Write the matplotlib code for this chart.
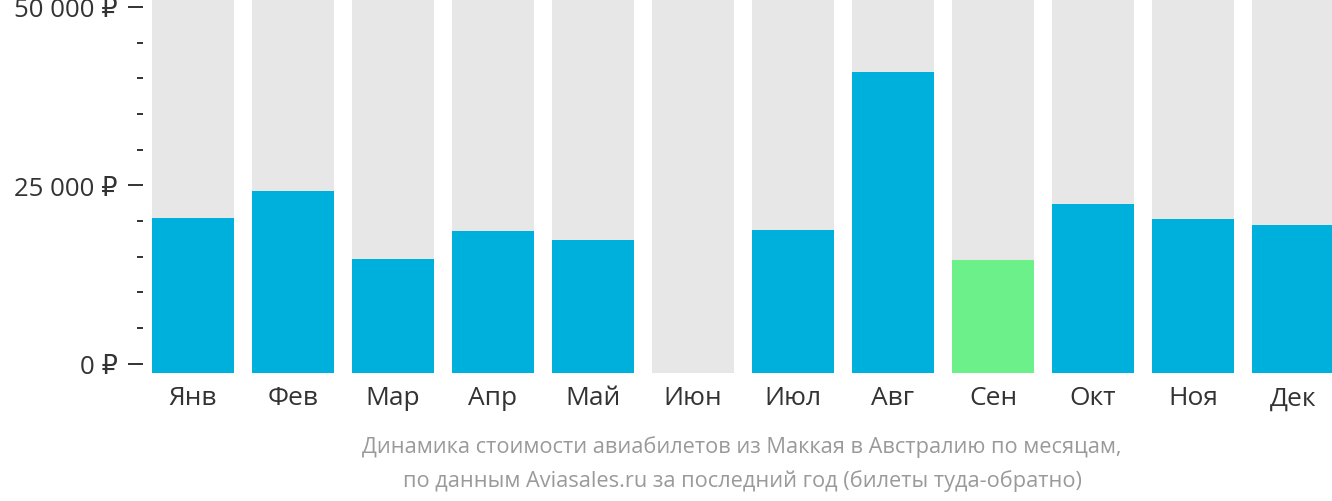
import numpy as np
import matplotlib
matplotlib.use("Agg")
import matplotlib.pyplot as plt
from matplotlib.ticker import FixedLocator, MultipleLocator

plt.rcParams['font.family'] = ['Open Sans', 'DejaVu Sans']

# Data (rubles, round trip)
months = ["Янв", "Фев", "Мар", "Апр", "Май", "Июн",
          "Июл", "Авг", "Сен", "Окт", "Ноя", "Дек"]
prices = [20400, 24200, 14650, 18600, 17300, None,
          18700, 40900, 14500, 22400, 20300, 19400]
cheapest_month = "Сен"
y_ticks = [0, 25000, 50000]
y_tick_labels = ["0 ₽", "25 000 ₽", "50 000 ₽"]
caption = ("Динамика стоимости авиабилетов из Маккая в Австралию по месяцам,\n"
           "по данным Aviasales.ru за последний год (билеты туда-обратно)")

BLUE = "#00b0dc"
GREEN = "#6cf08a"
GRAY = "#e7e7e7"

W, H = 1332, 502
fig = plt.figure(figsize=(W / 100, H / 100), dpi=100)
ax = fig.add_axes([152 / W, (H - 374) / H, 1180 / W, 374 / H])

y_bottom, y_top = -1330, 51120
x = np.arange(len(months))
bar_w = 0.82

# gray background columns
ax.bar(x, y_top - y_bottom, bottom=y_bottom, width=bar_w, color=GRAY, zorder=1)

for i, (m, p) in enumerate(zip(months, prices)):
    if p is None:
        continue
    color = GREEN if m == cheapest_month else BLUE
    ax.bar(i, p - y_bottom, bottom=y_bottom, width=bar_w, color=color, zorder=2)

ax.set_xlim(-0.41, 11.39)
ax.set_ylim(y_bottom, y_top)

for s in ax.spines.values():
    s.set_visible(False)
ax.spines['left'].set_position(('outward', 6.5))

ax.set_xticks(x)
ax.set_xticklabels(months, fontsize=19, color="#333333")
ax.tick_params(axis="x", length=0, pad=9)

ax.yaxis.set_major_locator(FixedLocator(y_ticks))
ax.set_yticklabels(y_tick_labels, fontsize=18.5, color="#333333")
ax.yaxis.set_minor_locator(MultipleLocator(5000))
ax.tick_params(axis="y", which="major", length=11, width=1.4, color="#333333", pad=7)
ax.tick_params(axis="y", which="minor", length=4, width=1.4, color="#333333")

fig.text(742 / W, 1 - 464 / H, caption, ha="center", va="center",
         fontsize=15.7, color="#9a9a9a", linespacing=1.72)

fig.savefig("out.png", dpi=100)
